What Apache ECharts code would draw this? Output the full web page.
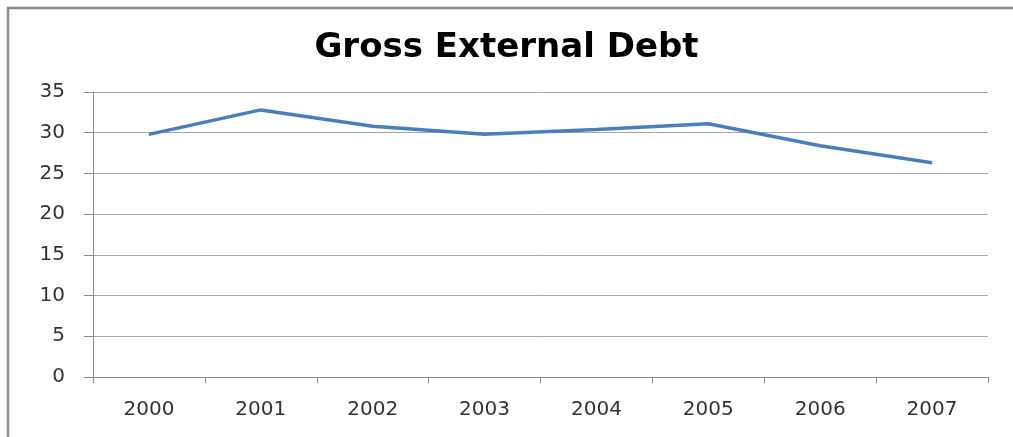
<!DOCTYPE html>
<html>
<head>
<meta charset="utf-8">
<script src="https://cdn.jsdelivr.net/npm/echarts@6/dist/echarts.min.js"></script>
<style>
  html, body { margin: 0; padding: 0; background: #fff; }
  #chart { width: 1013px; height: 437px; }
</style>
</head>
<body>
<div id="chart"></div>
<script>
// Gross external debt by year
const years = ['2000', '2001', '2002', '2003', '2004', '2005', '2006', '2007'];
const debt = [29.8, 32.8, 30.8, 29.8, 30.4, 31.1, 28.4, 26.3];
const yMin = 0, yMax = 35, yStep = 5;

const chart = echarts.init(document.getElementById('chart'));
chart.setOption({
  backgroundColor: '#ffffff',
  animation: false,
  graphic: [{
    type: 'rect',
    shape: { x: 8, y: 8, width: 1020, height: 450 },
    style: { fill: 'none', stroke: '#8a8a8a', lineWidth: 2.5 },
    silent: true
  }],
  title: {
    text: 'Gross External Debt',
    left: 'center',
    top: 26,
    textStyle: { fontFamily: 'DejaVu Sans', fontWeight: 'bold', fontSize: 34, color: '#000' }
  },
  grid: { left: 93, right: 25, top: 92, bottom: 60 },
  xAxis: {
    type: 'category',
    data: years,
    boundaryGap: true,
    axisLine: { lineStyle: { color: '#8c8c8c', width: 1 } },
    axisTick: { show: true, length: 6, lineStyle: { color: '#8c8c8c' } },
    axisLabel: { margin: 23, fontFamily: 'DejaVu Sans', fontSize: 20, color: '#333' },
    splitLine: { show: false }
  },
  yAxis: {
    type: 'value',
    min: yMin, max: yMax, interval: yStep,
    axisLine: { show: true, lineStyle: { color: '#8c8c8c', width: 1 } },
    axisTick: { show: true, length: 9, lineStyle: { color: '#8c8c8c' } },
    axisLabel: { margin: 28, fontFamily: 'DejaVu Sans', fontSize: 20, color: '#333' },
    splitLine: { show: true, lineStyle: { color: '#a6a6a6', width: 1 } }
  },
  series: [{
    type: 'line',
    data: debt,
    symbol: 'none',
    lineStyle: { color: '#4a7ebb', width: 3.5 },
    z: 3
  }]
});
</script>
</body>
</html>
